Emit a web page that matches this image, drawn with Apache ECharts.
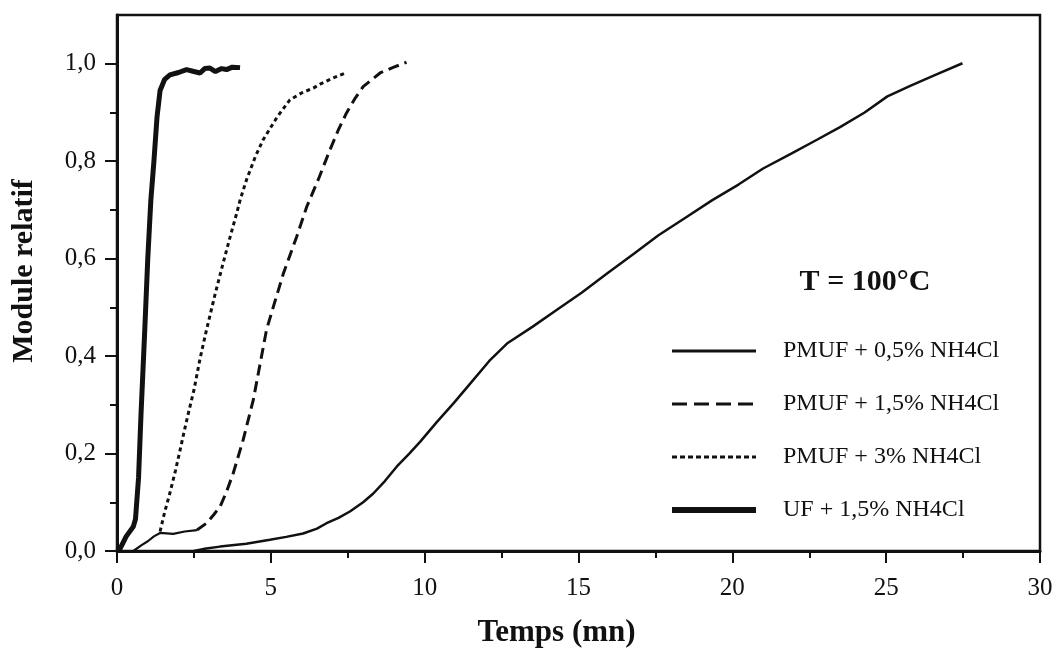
<!DOCTYPE html>
<html><head><meta charset="utf-8">
<script src="https://cdn.jsdelivr.net/npm/echarts@6/dist/echarts.min.js"></script>
<style>html,body{margin:0;padding:0;background:#fff}#c{width:1057px;height:655px}</style>
</head><body><div id="c"></div>
<script>
const seriesNames = ['PMUF + 0,5% NH4Cl','PMUF + 1,5% NH4Cl','PMUF + 3% NH4Cl','UF + 1,5% NH4Cl'];
const xTicks = [0,5,10,15,20,25,30];
const xMinorTicks = [2.5,7.5,12.5,17.5,22.5,27.5];
const yTicks = [0,0.2,0.4,0.6,0.8,1.0];
const yMinorTicks = [0.1,0.3,0.5,0.7,0.9];
const annotation = 'T = 100°C';

const pmuf05 = [[2.5,0],[2.9,0.005],[3.35,0.009],[4.2,0.015],[4.97,0.023],[5.5,0.029],[6.05,0.036],[6.5,0.046],[6.81,0.057],[7.2,0.068],[7.57,0.081],[8.0,0.1],[8.33,0.118],[8.7,0.143],[9.09,0.173],[9.5,0.2],[9.85,0.224],[10.4,0.265],[10.95,0.304],[11.5,0.345],[12.1,0.39],[12.7,0.427],[13.5,0.46],[14.3,0.495],[15.1,0.53],[15.96,0.571],[16.8,0.61],[17.6,0.648],[18.5,0.685],[19.35,0.72],[20.2,0.752],[21.0,0.785],[21.9,0.815],[22.75,0.844],[23.5,0.87],[24.3,0.9],[25.04,0.933],[25.8,0.955],[26.6,0.977],[27.48,1.001]];
const pmufStart = [[0.53,0],[0.8,0.012],[1.0,0.02],[1.2,0.03],[1.4,0.037],[1.83,0.035],[2.2,0.04],[2.6,0.043]];
const pmuf15 = [[2.6,0.043],[2.91,0.057],[3.15,0.075],[3.35,0.091],[3.55,0.12],[3.78,0.16],[4.1,0.228],[4.43,0.31],[4.86,0.454],[5.1,0.505],[5.41,0.57],[5.84,0.645],[6.17,0.707],[6.54,0.762],[6.92,0.823],[7.2,0.865],[7.46,0.899],[7.75,0.93],[8.0,0.953],[8.3,0.968],[8.55,0.981],[9.0,0.993],[9.41,1.003]];
const pmuf3 = [[1.4,0.04],[1.55,0.08],[1.72,0.119],[1.9,0.165],[2.05,0.207],[2.2,0.25],[2.32,0.283],[2.5,0.33],[2.7,0.395],[2.91,0.454],[3.2,0.53],[3.45,0.591],[3.7,0.65],[3.89,0.693],[4.0,0.72],[4.21,0.762],[4.5,0.81],[4.75,0.844],[5.2,0.89],[5.62,0.926],[6.0,0.94],[6.38,0.95],[6.6,0.958],[7.0,0.97],[7.46,0.982]];
const uf15 = [[0,0],[0.1,0.005],[0.3,0.03],[0.53,0.05],[0.6,0.065],[0.7,0.15],[0.78,0.28],[0.9,0.45],[1.0,0.6],[1.1,0.72],[1.2,0.8],[1.3,0.89],[1.4,0.945],[1.55,0.968],[1.72,0.977],[2.0,0.982],[2.26,0.988],[2.5,0.984],[2.7,0.981],[2.85,0.99],[3.02,0.991],[3.2,0.984],[3.4,0.99],[3.56,0.988],[3.75,0.993],[4.0,0.992]];

const INK = '#111';
const FONT = '"Liberation Serif", "Times New Roman", serif';
const comma = v => (Math.round(v*10)/10).toFixed(1).replace('.', ',');

const chart = echarts.init(document.getElementById('c'), null, {renderer:'canvas'});
const baseX = {type:'value', min:0, max:30, position:'bottom'};
const baseY = {type:'value', min:0, max:1.1, position:'left'};
chart.setOption({
  animation:false,
  backgroundColor:'#fff',
  grid:{left:117, top:15, right:17, bottom:104, show:true, borderColor:INK, borderWidth:2.5, backgroundColor:'transparent'},
  xAxis:[
    Object.assign({}, baseX, {
      name:'Temps (mn)', nameLocation:'middle', nameGap:66,
      nameTextStyle:{fontFamily:FONT, fontWeight:'bold', fontSize:31, color:INK, padding:[0,44,0,0]},
      axisLine:{show:true, lineStyle:{color:INK, width:3}},
      axisTick:{show:true, inside:false, length:12, lineStyle:{color:INK, width:2}, customValues:xTicks},
      axisLabel:{show:true, margin:25, fontFamily:FONT, fontSize:25, color:INK, customValues:xTicks},
      splitLine:{show:false}
    }),
    Object.assign({}, baseX, {
      axisLine:{show:false},
      axisTick:{show:true, inside:false, length:7, lineStyle:{color:INK, width:2}, customValues:xMinorTicks},
      axisLabel:{show:false}, splitLine:{show:false}
    })
  ],
  yAxis:[
    Object.assign({}, baseY, {
      name:'Module relatif', nameLocation:'middle', nameGap:78, nameRotate:90,
      nameTextStyle:{fontFamily:FONT, fontWeight:'bold', fontSize:30, color:INK, padding:[0,0,0,24]},
      axisLine:{show:true, lineStyle:{color:INK, width:3}},
      axisTick:{show:true, inside:false, length:12, lineStyle:{color:INK, width:2}, customValues:yTicks},
      axisLabel:{show:true, margin:21, fontFamily:FONT, fontSize:25, color:INK, customValues:yTicks, formatter:comma},
      splitLine:{show:false}
    }),
    Object.assign({}, baseY, {
      axisLine:{show:false},
      axisTick:{show:true, inside:false, length:7, lineStyle:{color:INK, width:2}, customValues:yMinorTicks},
      axisLabel:{show:false}, splitLine:{show:false}
    })
  ],
  legend:{
    orient:'vertical', left:664, top:334, itemWidth:84, itemHeight:14, itemGap:29,
    data:[
      {name:seriesNames[0], lineStyle:{width:3, type:'solid', color:INK}},
      {name:seriesNames[1], lineStyle:{width:3, type:[15,7], color:INK}},
      {name:seriesNames[2], lineStyle:{width:3, type:[5,3], color:INK}},
      {name:seriesNames[3], lineStyle:{width:6, type:'solid', color:INK}}
    ],
    itemStyle:{opacity:0},
    textStyle:{fontFamily:FONT, fontSize:24, color:INK, padding:[0,0,0,22]}
  },
  graphic:[{type:'text', x:865, y:282, style:{text:annotation, font:'bold 30px "Liberation Serif", serif', fill:INK, align:'center', verticalAlign:'middle'}}],
  series:[
    {name:seriesNames[0], type:'line', data:pmuf05, symbol:'none', lineStyle:{color:INK, width:2.5, type:'solid'}, itemStyle:{color:INK}},
    {name:seriesNames[1], type:'line', data:pmuf15, symbol:'none', lineStyle:{color:INK, width:3, type:[11,6]}, itemStyle:{color:INK}},
    {name:seriesNames[2], type:'line', data:pmuf3, symbol:'none', lineStyle:{color:INK, width:3, type:[4,3.5]}, itemStyle:{color:INK}},
    {name:seriesNames[3], type:'line', data:uf15, symbol:'none', lineStyle:{color:INK, width:5, type:'solid'}, itemStyle:{color:INK}},
    {name:'start', type:'line', data:pmufStart, symbol:'none', lineStyle:{color:INK, width:2.2, type:'solid'}, itemStyle:{color:INK}}
  ]
});
</script></body></html>
